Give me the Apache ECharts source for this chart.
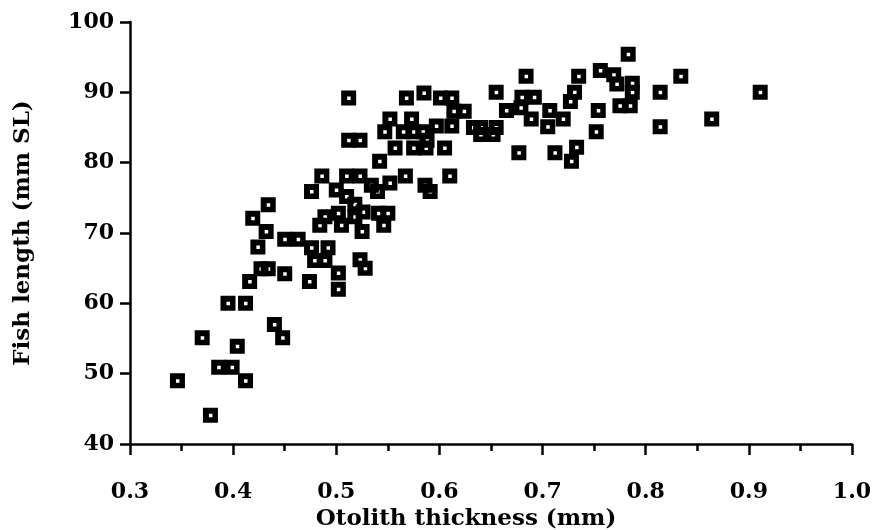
<!DOCTYPE html>
<html>
<head>
<meta charset="utf-8">
<script src="https://cdn.jsdelivr.net/npm/echarts@6/dist/echarts.min.js"></script>
<style>
  html, body { margin: 0; padding: 0; background: #ffffff; }
  #chart { width: 874px; height: 530px; }
</style>
</head>
<body>
<div id="chart"></div>
<script>
// Otolith thickness (mm) for each fish
const otolithThickness = [
  0.346, 0.378, 0.370, 0.386, 0.399, 0.412, 0.404, 0.440, 0.448, 0.395,
  0.412, 0.416, 0.427, 0.434, 0.450, 0.474, 0.424, 0.432, 0.419, 0.434,
  0.450, 0.463, 0.476, 0.492, 0.479, 0.489, 0.502, 0.502, 0.523, 0.528,
  0.476, 0.486, 0.500, 0.510, 0.502, 0.489, 0.484, 0.505, 0.518, 0.525,
  0.526, 0.541, 0.550, 0.546, 0.518, 0.510, 0.523, 0.534, 0.540, 0.552,
  0.567, 0.586, 0.591, 0.610, 0.542, 0.512, 0.523, 0.588, 0.557, 0.575,
  0.587, 0.605, 0.547, 0.565, 0.575, 0.584, 0.597, 0.612, 0.552, 0.573,
  0.512, 0.568, 0.585, 0.601, 0.612, 0.614, 0.624, 0.633, 0.640, 0.655,
  0.640, 0.652, 0.655, 0.665, 0.679, 0.680, 0.692, 0.684, 0.689, 0.677,
  0.707, 0.705, 0.712, 0.720, 0.727, 0.731, 0.733, 0.728, 0.735, 0.752,
  0.754, 0.756, 0.769, 0.772, 0.775, 0.785, 0.787, 0.787, 0.783, 0.814,
  0.814, 0.834, 0.864, 0.911
];

// Standard length (mm SL) for the same fish
const fishLength = [
  49.0, 44.1, 55.1, 50.9, 50.9, 49.0, 53.9, 57.0, 55.1, 60.0,
  60.0, 63.1, 64.9, 64.9, 64.2, 63.1, 68.0, 70.2, 72.1, 74.0,
  69.1, 69.1, 67.9, 67.9, 66.1, 66.1, 64.3, 62.0, 66.2, 65.0,
  75.9, 78.1, 76.1, 75.2, 72.8, 72.3, 71.1, 71.1, 72.3, 70.2,
  73.0, 72.8, 72.8, 71.1, 74.1, 78.1, 78.1, 76.8, 75.9, 77.1,
  78.1, 76.8, 75.9, 78.1, 80.2, 83.2, 83.2, 83.2, 82.1, 82.1,
  82.1, 82.1, 84.4, 84.4, 84.4, 84.4, 85.2, 85.2, 86.2, 86.2,
  89.2, 89.2, 89.9, 89.2, 89.2, 87.3, 87.3, 85.0, 85.0, 85.0,
  84.0, 84.0, 90.0, 87.4, 87.8, 89.3, 89.3, 92.3, 86.2, 81.4,
  87.4, 85.1, 81.4, 86.2, 88.7, 90.0, 82.2, 80.2, 92.3, 84.4,
  87.4, 93.1, 92.5, 91.2, 88.1, 88.1, 91.3, 90.0, 95.4, 90.0,
  85.1, 92.3, 86.2, 90.0
];

// Axis ranges and tick spacing
const xRange = [0.3, 1.0];
const xStep = 0.1;
const yRange = [40, 100];
const yStep = 10;

const axisTitleX = 'Otolith thickness (mm)';
const axisTitleY = 'Fish length (mm SL)';

const serif = '"DejaVu Serif", "Liberation Serif", serif';
const ink = '#000000';

// Solid black square with a small open centre
const markerPath = 'path://M0,0H15V15H0Z M6,6V9.5H9.5V6Z';

const chart = echarts.init(document.getElementById('chart'), null, { renderer: 'canvas' });

chart.setOption({
  animation: false,
  backgroundColor: '#ffffff',
  grid: { left: 130, right: 22, top: 22, bottom: 86, containLabel: false, outerBoundsMode: 'none' },
  xAxis: {
    type: 'value',
    min: xRange[0],
    max: xRange[1],
    interval: xStep,
    name: axisTitleX,
    nameLocation: 'middle',
    nameGap: 64,
    nameTextStyle: {
      fontFamily: serif, fontSize: 23, fontWeight: 'bold', color: ink,
      padding: [0, 50, 0, 0]
    },
    axisLine: { show: true, onZero: false, lineStyle: { color: ink, width: 2.5 } },
    axisTick: { show: true, inside: false, length: 11, lineStyle: { color: ink, width: 2.5 } },
    minorTick: { show: true, splitNumber: 2, length: 7, lineStyle: { color: ink, width: 2.5 } },
    splitLine: { show: false },
    minorSplitLine: { show: false },
    axisLabel: {
      fontFamily: serif, fontSize: 22, fontWeight: 'bold', color: ink, margin: 37,
      formatter: v => v.toFixed(1)
    }
  },
  yAxis: {
    type: 'value',
    min: yRange[0],
    max: yRange[1],
    interval: yStep,
    name: axisTitleY,
    nameLocation: 'middle',
    nameGap: 95,
    nameRotate: 90,
    nameTextStyle: { fontFamily: serif, fontSize: 23, fontWeight: 'bold', color: ink },
    axisLine: { show: true, onZero: false, lineStyle: { color: ink, width: 2.5 } },
    axisTick: { show: true, inside: false, length: 10, lineStyle: { color: ink, width: 2.5 } },
    splitLine: { show: false },
    axisLabel: { fontFamily: serif, fontSize: 22, fontWeight: 'bold', color: ink, margin: 16 }
  },
  series: [{
    type: 'scatter',
    symbol: markerPath,
    symbolSize: 15,
    itemStyle: { color: ink, opacity: 1 },
    data: otolithThickness.map((x, i) => [x, fishLength[i]])
  }]
});
</script>
</body>
</html>
